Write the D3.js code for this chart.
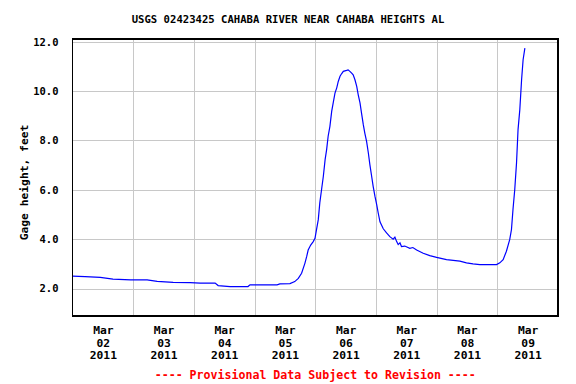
<!DOCTYPE html>
<html>
<head>
<meta charset="utf-8">
<script src="https://cdn.jsdelivr.net/npm/d3@7"></script>
<style>
  html, body { margin: 0; padding: 0; background: #fff; }
  svg { display: block; }
  text { font-family: "DejaVu Sans Mono", "Liberation Mono", monospace; font-weight: bold; }
</style>
</head>
<body>
<script>
// ---- Data ----
const title = "USGS 02423425 CAHABA RIVER NEAR CAHABA HEIGHTS AL";
const yLabel = "Gage height, feet";
const footer = "---- Provisional Data Subject to Revision ----";
const startTime = "2011-03-02T00:00:00";
const endTime = "2011-03-10T00:00:00";
// hours since startTime
const hours = [0, 5, 11, 16, 23, 29.5, 33.5, 39.8, 46.5, 50.5, 56.4, 57.6, 62.3, 69.4, 70.2, 80.9, 82.0, 86.0, 87.9, 89.3,
  90.6, 91.9, 92.6, 93.2, 94.2, 95.2, 95.9, 96.5, 97.2, 97.8, 98.5, 99.2, 99.9, 100.5, 101.1, 101.8, 102.5, 103.1, 103.8,
  104.5, 105.1, 105.8, 106.4, 107.1, 108.4, 109.0, 109.7, 110.4, 111.0, 111.7, 112.4, 113.0, 113.7, 114.3, 115.0, 115.6,
  116.3, 117.0, 117.6, 118.3, 118.9, 119.6, 120.3, 120.9, 121.6, 122.9, 124.2, 125.5, 126.8, 127.5, 128.2, 128.8, 129.5,
  130.1, 131.4, 133.4, 134.6, 136.1, 138.7, 141.3, 144.0, 147.9, 153.2, 155.8, 158.4, 161.1, 167.7, 169.0, 170.3, 171.6,
  172.9, 173.6, 174.2, 174.9, 175.6, 176.2, 176.9, 177.6, 178.2, 178.9];
const gageHeight = [2.50, 2.48, 2.45, 2.38, 2.35, 2.35, 2.29, 2.25, 2.24, 2.22, 2.22, 2.12, 2.08, 2.08, 2.15, 2.15, 2.19, 2.20, 2.28, 2.41,
  2.62, 3.02, 3.29, 3.56, 3.76, 3.90, 4.03, 4.39, 4.79, 5.47, 6.01, 6.55, 7.22, 7.63, 8.17, 8.57, 9.18, 9.52, 9.92,
  10.13, 10.39, 10.60, 10.70, 10.80, 10.84, 10.86, 10.80, 10.73, 10.66, 10.46, 10.19, 9.85, 9.52, 9.11, 8.64, 8.30,
  7.96, 7.49, 7.02, 6.55, 6.14, 5.74, 5.40, 5.06, 4.70, 4.42, 4.25, 4.10, 4.00, 4.08, 3.90, 3.78, 3.85,
  3.70, 3.72, 3.63, 3.66, 3.56, 3.43, 3.33, 3.26, 3.17, 3.11, 3.04, 3.00, 2.97, 2.97, 3.04, 3.17, 3.51,
  3.98, 4.39, 5.20, 6.01, 7.09, 8.44, 9.25, 10.46, 11.27, 11.74];
const yTicks = [2, 4, 6, 8, 10, 12];
const yDomain = [0.886, 12.11];
const xTickDays = ["2011-03-02T12:00:00", "2011-03-03T12:00:00", "2011-03-04T12:00:00", "2011-03-05T12:00:00",
  "2011-03-06T12:00:00", "2011-03-07T12:00:00", "2011-03-08T12:00:00", "2011-03-09T12:00:00"];
const xGridDays = ["2011-03-03T00:00:00", "2011-03-04T00:00:00", "2011-03-05T00:00:00", "2011-03-06T00:00:00",
  "2011-03-07T00:00:00", "2011-03-08T00:00:00", "2011-03-09T00:00:00"];

// ---- Layout ----
const W = 576, H = 384;
const m = { left: 72.5, right: 558, top: 39, bottom: 316 };

const t0 = new Date(startTime);
const data = hours.map((h, i) => ({ t: new Date(t0.getTime() + h * 3600e3), v: gageHeight[i] }));

const x = d3.scaleTime().domain([t0, new Date(endTime)]).range([m.left, m.right]);
const y = d3.scaleLinear().domain(yDomain).range([m.bottom, m.top]);

const svg = d3.select("body").append("svg").attr("width", W).attr("height", H);

// grid
const grid = svg.append("g").attr("shape-rendering", "crispEdges");
grid.selectAll("line.h").data(yTicks).join("line")
  .attr("x1", m.left).attr("x2", m.right)
  .attr("y1", d => Math.round(y(d)) + 0.5).attr("y2", d => Math.round(y(d)) + 0.5)
  .attr("stroke", "#c8c8c8").attr("stroke-width", 1);
grid.selectAll("line.v").data(xGridDays.map(d => new Date(d))).join("line")
  .attr("x1", d => Math.round(x(d)) + 0.5).attr("x2", d => Math.round(x(d)) + 0.5)
  .attr("y1", m.top).attr("y2", m.bottom)
  .attr("stroke", "#c8c8c8").attr("stroke-width", 1);

// data line
const line = d3.line().x(d => x(d.t)).y(d => y(d.v)).curve(d3.curveLinear);
svg.append("path").datum(data)
  .attr("d", line)
  .attr("fill", "none").attr("stroke", "#0000ff").attr("stroke-width", 1.2);

// border
svg.append("rect")
  .attr("x", m.left).attr("y", m.top)
  .attr("width", m.right - m.left).attr("height", m.bottom - m.top)
  .attr("fill", "none").attr("stroke", "#000").attr("stroke-width", 1.5)
  .attr("shape-rendering", "crispEdges");

// y axis labels
const yAxis = d3.axisLeft(y).tickValues(yTicks).tickFormat(d3.format(".1f")).tickSize(0).tickPadding(14);
const ya = svg.append("g").attr("transform", `translate(${m.left},0)`).call(yAxis);
ya.select(".domain").remove();
ya.selectAll("text").attr("font-size", "10.5px").attr("font-family", "'DejaVu Sans Mono', monospace")
  .attr("font-weight", "bold").attr("fill", "#000");

// x axis labels (3 lines)
const fmtMon = d3.timeFormat("%b"), fmtDay = d3.timeFormat("%d"), fmtYr = d3.timeFormat("%Y");
const xAxis = d3.axisBottom(x).tickValues(xTickDays.map(d => new Date(d))).tickSize(0).tickFormat("");
const xa = svg.append("g").attr("transform", `translate(0,${m.bottom})`).call(xAxis);
xa.select(".domain").remove();
xa.selectAll(".tick").each(function (d) {
  const g = d3.select(this);
  g.select("text").remove();
  const tx = g.append("text").attr("text-anchor", "middle").attr("font-size", "11.3px").attr("fill", "#000");
  [fmtMon(d), fmtDay(d), fmtYr(d)].forEach((s, i) => {
    tx.append("tspan").attr("x", 0).attr("y", 18 + i * 12.6).text(s);
  });
});

// title
svg.append("text").attr("x", 288).attr("y", 23).attr("text-anchor", "middle")
  .attr("font-size", "10.6px").attr("fill", "#000").text(title);

// y label
svg.append("text").attr("transform", `translate(28,${(m.top + m.bottom) / 2 + 5}) rotate(-90)`)
  .attr("text-anchor", "middle").attr("font-size", "11.3px").attr("fill", "#000").text(yLabel);

// footer
svg.append("text").attr("x", (m.left + m.right) / 2).attr("y", 379).attr("text-anchor", "middle")
  .attr("font-size", "11.6px").attr("fill", "#ff0000").text(footer);
</script>
</body>
</html>
